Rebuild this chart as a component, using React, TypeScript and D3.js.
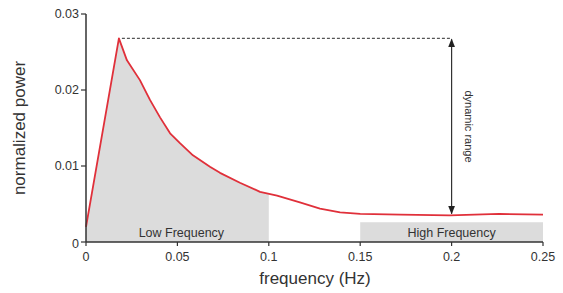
import React from "react";
import * as d3 from "d3";

const freq = [0, 0.018, 0.0224, 0.0295, 0.035, 0.0405, 0.046, 0.0514, 0.0585, 0.0678, 0.0733, 0.0842, 0.0952, 0.1045, 0.117, 0.128, 0.139, 0.15, 0.172, 0.199, 0.226, 0.25];
const power = [0.002, 0.0268, 0.0239, 0.0213, 0.0187, 0.0164, 0.0143, 0.0130, 0.0114, 0.0099, 0.0091, 0.0078, 0.0066, 0.0061, 0.0052, 0.0044, 0.0039, 0.0037, 0.0036, 0.0035, 0.0037, 0.0036];
const xTicks = [0, 0.05, 0.1, 0.15, 0.2, 0.25];
const xTickLabels = ["0", "0.05", "0.1", "0.15", "0.2", "0.25"];
const yTicks = [0, 0.01, 0.02, 0.03];
const yTickLabels = ["0", "0.01", "0.02", "0.03"];
const lowBand = [0, 0.1];
const highBand = [0.15, 0.25];
const highBandTop = 0.0026;
const peakIdx = 1;
const rangeFreq = 0.2;
const rangeBottom = 0.0036;

export default function App() {
  const W = 563, H = 293;
  const x = d3.scaleLinear().domain([0, 0.25]).range([86, 543]);
  const y = d3.scaleLinear().domain([0, 0.03]).range([242, 14]);
  const data = freq.map((f, i) => ({ f, p: power[i] }));
  const line = d3.line<{ f: number; p: number }>().x(d => x(d.f)).y(d => y(d.p));
  const lowData = data.filter(d => d.f <= lowBand[1]);
  const i1 = freq.findIndex(f => f > lowBand[1]);
  const t = (lowBand[1] - freq[i1 - 1]) / (freq[i1] - freq[i1 - 1]);
  lowData.push({ f: lowBand[1], p: power[i1 - 1] + t * (power[i1] - power[i1 - 1]) });
  const area = d3.area<{ f: number; p: number }>().x(d => x(d.f)).y0(y(0)).y1(d => y(d.p));
  const font = "Liberation Sans, Arial, sans-serif";
  const axisColor = "#333";
  const peak = data[peakIdx];
  return (
    <svg width={W} height={H} style={{ position: "absolute", left: 0, top: 0 }} fontFamily={font}>
      <defs>
        <marker id="ah" viewBox="0 0 10 10" refX="9" refY="5" markerWidth="7" markerHeight="7" orient="auto-start-reverse">
          <path d="M0,1 L10,5 L0,9 z" fill="#222" />
        </marker>
      </defs>
      <path d={area(lowData) || ""} fill="#dcdcdc" />
      <rect x={x(highBand[0])} y={y(highBandTop)} width={x(highBand[1]) - x(highBand[0])} height={y(0) - y(highBandTop)} fill="#dcdcdc" />
      <text x={(x(lowBand[0]) + x(lowBand[1])) / 2 + 4} y={237} fontSize={12.5} textAnchor="middle" fill="#333">Low Frequency</text>
      <text x={(x(highBand[0]) + x(highBand[1])) / 2} y={237} fontSize={12.5} textAnchor="middle" fill="#333">High Frequency</text>
      <line x1={x(peak.f) + 3} x2={x(rangeFreq)} y1={y(peak.p)} y2={y(peak.p)} stroke="#555" strokeWidth={1.2} strokeDasharray="3,2" />
      <line x1={x(rangeFreq)} x2={x(rangeFreq)} y1={y(peak.p) + 1} y2={y(rangeBottom) - 1} stroke="#333" strokeWidth={1.2} markerStart="url(#ah)" markerEnd="url(#ah)" />
      <text transform={`translate(${x(rangeFreq) + 13},${(y(peak.p) + y(rangeBottom)) / 2}) rotate(90)`} fontSize={11} textAnchor="middle" fill="#333">dynamic range</text>
      <path d={line(data) || ""} fill="none" stroke="#e0303a" strokeWidth={1.8} strokeLinejoin="round" />
      <line x1={x(0)} x2={x(0)} y1={y(0.03)} y2={y(0)} stroke={axisColor} strokeWidth={1.5} />
      <line x1={x(0)} x2={x(0.25)} y1={y(0)} y2={y(0)} stroke={axisColor} strokeWidth={1.5} />
      {yTicks.map((v, i) => (
        <g key={"y" + i}>
          <line x1={x(0) - 5} x2={x(0)} y1={y(v)} y2={y(v)} stroke={axisColor} strokeWidth={1.2} />
          <text x={x(0) - 7} y={y(v) + (i === 0 ? 6 : 4)} fontSize={12.5} textAnchor="end" fill="#333">{yTickLabels[i]}</text>
        </g>
      ))}
      {xTicks.map((v, i) => (
        <g key={"x" + i}>
          <line x1={x(v)} x2={x(v)} y1={y(0)} y2={y(0) + 4} stroke={axisColor} strokeWidth={1.2} />
          <text x={x(v)} y={261} fontSize={12.5} textAnchor="middle" fill="#333">{xTickLabels[i]}</text>
        </g>
      ))}
      <text x={315} y={284} fontSize={17} textAnchor="middle" fill="#333">frequency (Hz)</text>
      <text transform={`translate(25,128) rotate(-90)`} fontSize={17} textAnchor="middle" fill="#333">normalized power</text>
    </svg>
  );
}
